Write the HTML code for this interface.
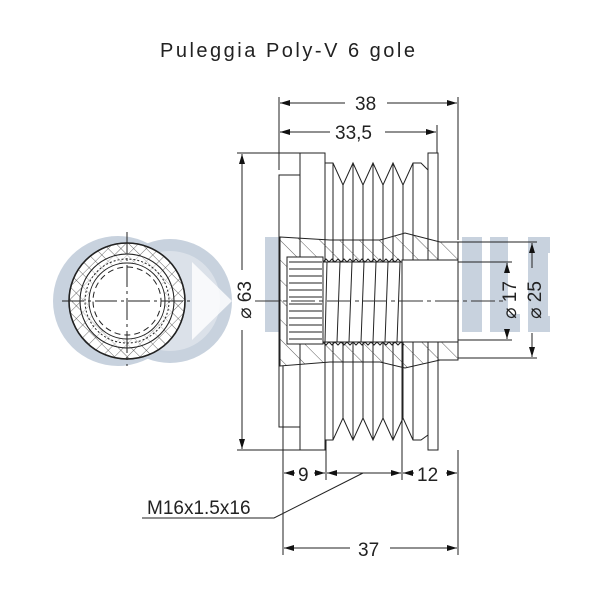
<!DOCTYPE html>
<html><head><meta charset="utf-8"><style>
html,body{margin:0;padding:0;background:#fff}
svg{display:block}
text{font-family:"Liberation Sans",sans-serif;fill:#222}
</style></head><body>
<svg width="600" height="600" viewBox="0 0 600 600" xmlns="http://www.w3.org/2000/svg">
<defs>
<marker id="a" viewBox="0 0 10 6" refX="10" refY="3" markerWidth="10" markerHeight="6" orient="auto-start-reverse" markerUnits="userSpaceOnUse"><path d="M0,0L10,3L0,6z" fill="#111"/></marker>
<pattern id="h" width="14" height="14" patternUnits="userSpaceOnUse" patternTransform="rotate(-45)"><line x1="0" y1="0" x2="0" y2="14" stroke="#333" stroke-width="0.8"/></pattern>
<pattern id="x" width="9" height="9" patternUnits="userSpaceOnUse" patternTransform="rotate(45)"><path d="M0,0H9M0,0V9" stroke="#333" stroke-width="0.7" fill="none"/></pattern>
</defs>
<!-- watermark -->
<g fill="#c8d2de">
<circle cx="118" cy="301" r="65"/>
<circle cx="170" cy="301" r="62"/>
<rect x="265" y="237" width="20" height="95"/>
<rect x="462" y="237" width="20" height="95"/>
<rect x="490" y="237" width="18" height="95"/>
<rect x="490" y="314" width="30" height="18"/>
<rect x="528" y="237" width="20" height="95"/>
<rect x="528" y="237" width="22" height="16"/>
<rect x="528" y="276" width="20" height="14"/>
<rect x="528" y="316" width="22" height="16"/>
</g>
<circle cx="170" cy="301" r="50" fill="#fff" opacity="0.35"/>
<polygon points="192,262 232,301 192,340" fill="#fff" opacity="0.8"/>
<text x="160" y="57" font-size="20" textLength="255" lengthAdjust="spacing">Puleggia Poly-V 6 gole</text>
<!-- left end view -->
<g fill="none" stroke="#222">
<circle cx="127" cy="301" r="58" fill="#fff" stroke-width="1.6"/>
<circle cx="127" cy="301" r="58" fill="url(#x)"/>
<circle cx="127" cy="301" r="47" fill="#fff" stroke-width="1"/>
<circle cx="127" cy="301" r="47" fill="url(#x)" opacity="0.5"/>
<circle cx="127" cy="301" r="38" fill="#fff"/>
<circle cx="127" cy="301" r="34" stroke-dasharray="6,4"/>
<circle cx="127" cy="301" r="42" stroke-dasharray="2,2"/>
<line x1="62" y1="301" x2="193" y2="301" stroke-dasharray="22,4,3,4"/>
<line x1="127" y1="232" x2="127" y2="366" stroke-dasharray="22,4,3,4"/>
</g>
<!-- pulley -->
<g stroke="#222" stroke-width="1" fill="#fff">
<rect x="279" y="175" width="21" height="252"/>
<rect x="300" y="153" width="25" height="297"/>
<rect x="428" y="153" width="10" height="297"/>
<path d="M325,163 L333,163 L343,185 L353,163 L353,163 L363,185 L373,163 L383,185 L393,163 L403,185 L413,163 L421,163 L428,170 L428,435 L421,440 L413,440 L403,418 L393,440 L383,418 L373,440 L363,418 L353,440 L343,418 L333,440 L325,440 z"/>
<g fill="none">
<path d="M343,185V418M363,185V418M383,185V418M403,185V418M333,163V440M353,163V440M373,163V440M393,163V440M413,163V440"/>
</g>
<!-- section -->
<path d="M280,237 L330,240 L380,240 L405,233 L440,242 L458,242 L458,360 L440,360 L405,368 L380,362 L330,362 L280,366 z" fill="url(#h)"/>
<rect x="287" y="257" width="36" height="87" fill="#fff"/>
<g stroke-width="0.9">
<path d="M289,262H322M289,269H322M289,276H322M289,283H322M289,290H322M289,297H322M289,304H322M289,311H322M289,318H322M289,325H322M289,332H322M289,339H322"/>
</g>
<rect x="323" y="262" width="80" height="80" fill="#fff"/>
<path d="M327,262 L325,342 M340,262 L337,342 M352,262 L349,342 M364,262 L361,342 M376,262 L373,342 M388,262 L385,342 M400,262 L397,342" fill="none"/>
<path d="M323,262 l3,-3 3,3 3,-3 3,3 3,-3 3,3 3,-3 3,3 3,-3 3,3 3,-3 3,3 3,-3 3,3 3,-3 3,3 3,-3 3,3 3,-3 3,3 3,-3 3,3 3,-3 3,3 3,-3 3,3" fill="none"/>
<path d="M323,342 l3,3 3,-3 3,3 3,-3 3,3 3,-3 3,3 3,-3 3,3 3,-3 3,3 3,-3 3,3 3,-3 3,3 3,-3 3,3 3,-3 3,3 3,-3 3,3 3,-3 3,3 3,-3 3,3 3,-3 3,3" fill="none"/>
<rect x="402" y="260" width="56" height="82" fill="#fff"/>
</g>
<!-- centerline -->
<line x1="255" y1="301" x2="505" y2="301" stroke="#333" stroke-dasharray="24,4,4,4"/>
<!-- dimensions -->
<g stroke="#222" stroke-width="1" fill="none">
<line x1="279" y1="97" x2="279" y2="170"/>
<line x1="458" y1="97" x2="458" y2="240"/>
<line x1="437" y1="125" x2="437" y2="153"/>
<line x1="280" y1="103" x2="345" y2="103" marker-start="url(#a)"/>
<line x1="387" y1="103" x2="457" y2="103" marker-end="url(#a)"/>
<line x1="280" y1="132" x2="330" y2="132" marker-start="url(#a)"/>
<line x1="385" y1="132" x2="436" y2="132" marker-end="url(#a)"/>
<line x1="237" y1="153" x2="300" y2="153"/>
<line x1="237" y1="450" x2="300" y2="450"/>
<line x1="242" y1="154" x2="242" y2="270" marker-start="url(#a)"/>
<line x1="242" y1="330" x2="242" y2="449" marker-end="url(#a)"/>
<line x1="458" y1="242" x2="537" y2="242"/>
<line x1="458" y1="358" x2="537" y2="358"/>
<line x1="458" y1="262" x2="512" y2="262"/>
<line x1="458" y1="340" x2="512" y2="340"/>
<line x1="532" y1="243" x2="532" y2="268" marker-start="url(#a)"/>
<line x1="532" y1="333" x2="532" y2="357" marker-end="url(#a)"/>
<line x1="507" y1="263" x2="507" y2="272" marker-start="url(#a)"/>
<line x1="507" y1="330" x2="507" y2="339" marker-end="url(#a)"/>
<line x1="283" y1="366" x2="283" y2="555"/>
<line x1="326" y1="440" x2="326" y2="480"/>
<line x1="402" y1="342" x2="402" y2="480"/>
<line x1="458" y1="450" x2="458" y2="555"/>
<line x1="284" y1="473" x2="295" y2="473" marker-start="url(#a)"/>
<line x1="314" y1="473" x2="325" y2="473" marker-end="url(#a)"/>
<line x1="327" y1="473" x2="401" y2="473" marker-start="url(#a)" marker-end="url(#a)"/>
<line x1="403" y1="473" x2="414" y2="473" marker-start="url(#a)"/>
<line x1="446" y1="473" x2="457" y2="473" marker-end="url(#a)"/>
<line x1="284" y1="548" x2="350" y2="548" marker-start="url(#a)"/>
<line x1="390" y1="548" x2="457" y2="548" marker-end="url(#a)"/>
<polyline points="142,518 274,518 363,473"/>
</g>
<g font-size="19">
<text x="355" y="110">38</text>
<text x="335" y="139">33,5</text>
<text x="298" y="481">9</text>
<text x="417" y="481">12</text>
<text x="358" y="556">37</text>
<text x="147" y="514">M16x1.5x16</text>
<text transform="translate(251,300) rotate(-90)" text-anchor="middle">⌀ 63</text>
<text transform="translate(516,300) rotate(-90)" text-anchor="middle">⌀ 17</text>
<text transform="translate(541,300) rotate(-90)" text-anchor="middle">⌀ 25</text>
</g>
</svg>
</body></html>
